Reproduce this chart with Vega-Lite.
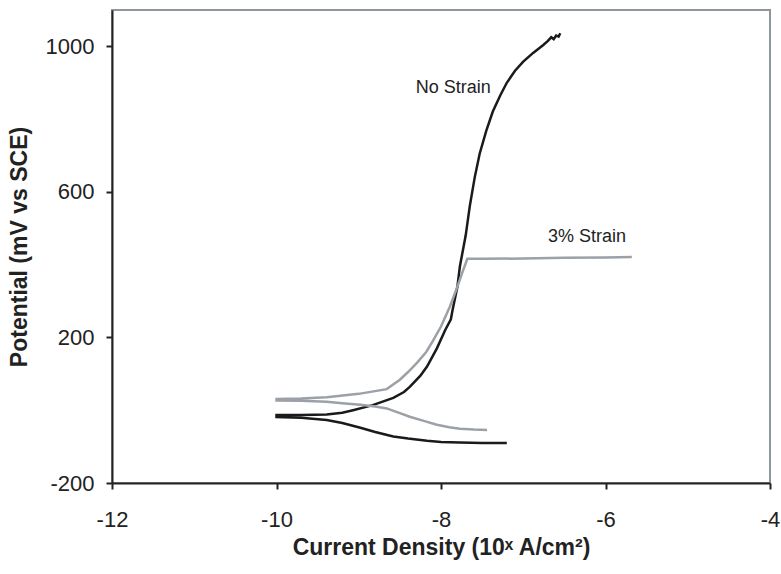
{
  "$schema": "https://vega.github.io/schema/vega-lite/v6.json",
  "width": 658,
  "height": 473,
  "autosize": "none",
  "padding": {"left": 112, "top": 10, "right": 11, "bottom": 91},
  "background": "white",
  "config": {
    "view": {"stroke": "#8e979e", "strokeWidth": 2},
    "font": "Liberation Sans"
  },
  "datasets": {
    "curves": [
      {"s": "No Strain", "i": 1, "x": -7.20, "y": -90},
      {"s": "No Strain", "i": 2, "x": -7.50, "y": -90},
      {"s": "No Strain", "i": 3, "x": -7.77, "y": -89},
      {"s": "No Strain", "i": 4, "x": -8.00, "y": -87},
      {"s": "No Strain", "i": 5, "x": -8.17, "y": -84},
      {"s": "No Strain", "i": 6, "x": -8.40, "y": -78},
      {"s": "No Strain", "i": 7, "x": -8.58, "y": -72},
      {"s": "No Strain", "i": 8, "x": -8.80, "y": -60},
      {"s": "No Strain", "i": 9, "x": -8.98, "y": -48},
      {"s": "No Strain", "i": 10, "x": -9.20, "y": -35},
      {"s": "No Strain", "i": 11, "x": -9.39, "y": -27},
      {"s": "No Strain", "i": 12, "x": -9.70, "y": -21},
      {"s": "No Strain", "i": 13, "x": -10.00, "y": -19},
      {"s": "No Strain", "i": 14, "x": -10.00, "y": -13},
      {"s": "No Strain", "i": 15, "x": -9.70, "y": -13},
      {"s": "No Strain", "i": 16, "x": -9.39, "y": -12},
      {"s": "No Strain", "i": 17, "x": -9.20, "y": -7},
      {"s": "No Strain", "i": 18, "x": -9.07, "y": 0},
      {"s": "No Strain", "i": 19, "x": -8.83, "y": 14},
      {"s": "No Strain", "i": 20, "x": -8.58, "y": 34},
      {"s": "No Strain", "i": 21, "x": -8.45, "y": 50},
      {"s": "No Strain", "i": 22, "x": -8.38, "y": 64},
      {"s": "No Strain", "i": 23, "x": -8.25, "y": 95},
      {"s": "No Strain", "i": 24, "x": -8.17, "y": 120},
      {"s": "No Strain", "i": 25, "x": -8.05, "y": 170},
      {"s": "No Strain", "i": 26, "x": -7.95, "y": 220},
      {"s": "No Strain", "i": 27, "x": -7.88, "y": 250},
      {"s": "No Strain", "i": 28, "x": -7.86, "y": 275},
      {"s": "No Strain", "i": 29, "x": -7.80, "y": 340},
      {"s": "No Strain", "i": 30, "x": -7.77, "y": 396},
      {"s": "No Strain", "i": 31, "x": -7.70, "y": 480},
      {"s": "No Strain", "i": 32, "x": -7.65, "y": 561},
      {"s": "No Strain", "i": 33, "x": -7.59, "y": 640},
      {"s": "No Strain", "i": 34, "x": -7.53, "y": 705},
      {"s": "No Strain", "i": 35, "x": -7.45, "y": 768},
      {"s": "No Strain", "i": 36, "x": -7.37, "y": 821},
      {"s": "No Strain", "i": 37, "x": -7.28, "y": 865},
      {"s": "No Strain", "i": 38, "x": -7.20, "y": 900},
      {"s": "No Strain", "i": 39, "x": -7.10, "y": 933},
      {"s": "No Strain", "i": 40, "x": -7.00, "y": 958},
      {"s": "No Strain", "i": 41, "x": -6.88, "y": 982},
      {"s": "No Strain", "i": 42, "x": -6.76, "y": 1003},
      {"s": "No Strain", "i": 43, "x": -6.70, "y": 1015},
      {"s": "No Strain", "i": 44, "x": -6.66, "y": 1025},
      {"s": "No Strain", "i": 45, "x": -6.63, "y": 1020},
      {"s": "No Strain", "i": 46, "x": -6.60, "y": 1030},
      {"s": "No Strain", "i": 47, "x": -6.57, "y": 1027},
      {"s": "No Strain", "i": 48, "x": -6.55, "y": 1036},
      {"s": "3% Strain", "i": 1, "x": -7.44, "y": -54},
      {"s": "3% Strain", "i": 2, "x": -7.60, "y": -53},
      {"s": "3% Strain", "i": 3, "x": -7.77, "y": -51},
      {"s": "3% Strain", "i": 4, "x": -7.90, "y": -47},
      {"s": "3% Strain", "i": 5, "x": -8.05, "y": -40},
      {"s": "3% Strain", "i": 6, "x": -8.20, "y": -30},
      {"s": "3% Strain", "i": 7, "x": -8.38, "y": -18},
      {"s": "3% Strain", "i": 8, "x": -8.50, "y": -8},
      {"s": "3% Strain", "i": 9, "x": -8.66, "y": 5},
      {"s": "3% Strain", "i": 10, "x": -8.80, "y": 10},
      {"s": "3% Strain", "i": 11, "x": -8.98, "y": 15},
      {"s": "3% Strain", "i": 12, "x": -9.20, "y": 19},
      {"s": "3% Strain", "i": 13, "x": -9.39, "y": 23},
      {"s": "3% Strain", "i": 14, "x": -9.70, "y": 26},
      {"s": "3% Strain", "i": 15, "x": -10.00, "y": 27},
      {"s": "3% Strain", "i": 16, "x": -10.00, "y": 31},
      {"s": "3% Strain", "i": 17, "x": -9.70, "y": 32},
      {"s": "3% Strain", "i": 18, "x": -9.39, "y": 36},
      {"s": "3% Strain", "i": 19, "x": -9.00, "y": 45},
      {"s": "3% Strain", "i": 20, "x": -8.66, "y": 58},
      {"s": "3% Strain", "i": 21, "x": -8.50, "y": 84},
      {"s": "3% Strain", "i": 22, "x": -8.40, "y": 105},
      {"s": "3% Strain", "i": 23, "x": -8.29, "y": 131},
      {"s": "3% Strain", "i": 24, "x": -8.18, "y": 160},
      {"s": "3% Strain", "i": 25, "x": -8.10, "y": 190},
      {"s": "3% Strain", "i": 26, "x": -8.00, "y": 230},
      {"s": "3% Strain", "i": 27, "x": -7.89, "y": 286},
      {"s": "3% Strain", "i": 28, "x": -7.80, "y": 340},
      {"s": "3% Strain", "i": 29, "x": -7.74, "y": 379},
      {"s": "3% Strain", "i": 30, "x": -7.68, "y": 416},
      {"s": "3% Strain", "i": 31, "x": -7.50, "y": 416},
      {"s": "3% Strain", "i": 32, "x": -7.00, "y": 417},
      {"s": "3% Strain", "i": 33, "x": -6.50, "y": 419},
      {"s": "3% Strain", "i": 34, "x": -6.00, "y": 420},
      {"s": "3% Strain", "i": 35, "x": -5.68, "y": 421}
    ],
    "labels": [
      {"label": "No Strain", "x": -7.85, "y": 873},
      {"label": "3% Strain", "x": -6.225, "y": 462}
    ]
  },
  "layer": [
    {
      "data": {"name": "curves"},
      "mark": {"type": "line", "strokeWidth": 2.5, "clip": true},
      "encoding": {
        "x": {
          "field": "x", "type": "quantitative",
          "scale": {"domain": [-12, -4], "nice": false, "zero": false},
          "axis": {
            "values": [-12, -10, -8, -6, -4],
            "labelExpr": "toString(datum.value)",
            "title": "Current Density (10ˣ A/cm²)",
            "titleFont": "Liberation Sans", "titleFontSize": 23, "titleFontWeight": "bold",
            "titleColor": "#222", "titlePadding": 6,
            "labelFont": "Liberation Sans", "labelFontSize": 22, "labelColor": "#222",
            "labelPadding": 20, "labelFlush": false, "labelOverlap": false,
            "domainColor": "#222", "domainWidth": 2,
            "tickColor": "#222", "tickWidth": 2, "tickSize": 6,
            "grid": false
          }
        },
        "y": {
          "field": "y", "type": "quantitative",
          "scale": {"domain": [-200, 1100], "nice": false, "zero": false},
          "axis": {
            "values": [-200, 200, 600, 1000],
            "labelExpr": "toString(datum.value)",
            "title": "Potential (mV vs SCE)",
            "titleFont": "Liberation Sans", "titleFontSize": 23, "titleFontWeight": "bold",
            "titleColor": "#222", "titlePadding": 14,
            "labelFont": "Liberation Sans", "labelFontSize": 22, "labelColor": "#222",
            "labelPadding": 12, "labelFlush": false, "labelOverlap": false,
            "domainColor": "#222", "domainWidth": 2,
            "tickColor": "#222", "tickWidth": 2, "tickSize": 6,
            "grid": false
          }
        },
        "order": {"field": "i", "type": "quantitative"},
        "color": {
          "field": "s", "type": "nominal",
          "scale": {"domain": ["No Strain", "3% Strain"], "range": ["#1a1a1a", "#9ba1a6"]},
          "legend": null
        }
      }
    },
    {
      "data": {"name": "labels"},
      "mark": {"type": "text", "font": "Liberation Sans", "fontSize": 18, "align": "center", "baseline": "alphabetic", "color": "#222"},
      "encoding": {
        "x": {"field": "x", "type": "quantitative"},
        "y": {"field": "y", "type": "quantitative"},
        "text": {"field": "label"}
      }
    }
  ]
}
